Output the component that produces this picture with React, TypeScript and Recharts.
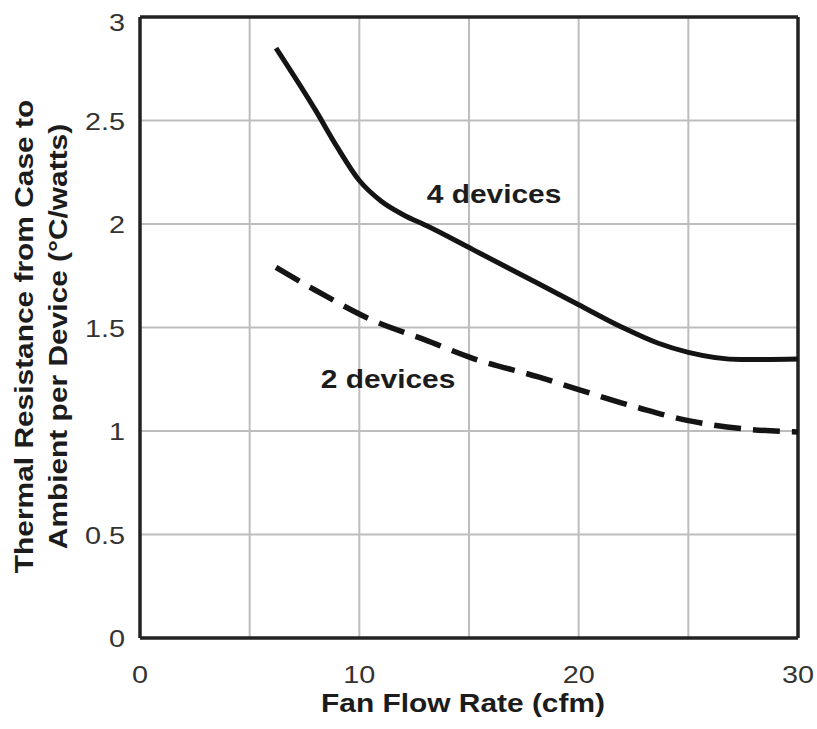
import React from 'react';
import { LineChart, Line, XAxis, YAxis, CartesianGrid, ReferenceLine, ReferenceDot } from 'recharts';

// Fan flow rate (cfm) and thermal resistance (°C/W)
const flow4 = [6.2, 8, 9, 10, 11, 12, 13.1, 15.2, 18.2, 20, 22, 23.6, 25, 27.4, 30];
const res4 = [2.85, 2.55, 2.37, 2.21, 2.11, 2.045, 1.99, 1.875, 1.71, 1.61, 1.5, 1.425, 1.38, 1.345, 1.348];
const flow2 = [6.2, 8, 10.5, 13, 15.2, 18.2, 20, 22.8, 25, 27.4, 30];
const res2 = [1.79, 1.68, 1.54, 1.44, 1.35, 1.26, 1.2, 1.11, 1.05, 1.012, 0.995];

const xTicks = [0, 5, 10, 15, 20, 25, 30];
const xLabelTicks = [0, 10, 20, 30];
const yTicks = [0, 0.5, 1, 1.5, 2, 2.5, 3];

const seriesNames = ['4 devices', '2 devices'];
const annotationX = [16.14, 11.31];
const annotationY = [2.1, 1.208];

const xTitle = 'Fan Flow Rate (cfm)';
const yTitleLines = ['Thermal Resistance from Case to', 'Ambient per Device (°C/watts)'];

const data4 = flow4.map((x, i) => ({ x, y: res4[i] }));
const data2 = flow2.map((x, i) => ({ x, y: res2[i] }));

const FONT = '"Liberation Sans", Arial, Helvetica, sans-serif';
const STRETCH = 1.15;
const TICK_STRETCH = 1.2;
const INK = '#1c1c1c';

const XTick = (props: any) => {
  const { x, y, payload } = props;
  if (!xLabelTicks.includes(payload.value)) return null;
  return (
    <text
      transform={`translate(${x},${y + 45}) scale(${TICK_STRETCH},1)`}
      textAnchor="middle"
      fontFamily={FONT}
      fontSize={24}
      fill="#333"
    >
      {payload.value}
    </text>
  );
};

const YTick = (props: any) => {
  const { x, y, payload } = props;
  const isTop = payload.value === yTicks[yTicks.length - 1];
  return (
    <text
      transform={`translate(${x - 15},${y + 9 + (isTop ? 5 : 0)}) scale(${TICK_STRETCH},1)`}
      textAnchor="end"
      fontFamily={FONT}
      fontSize={24}
      fill="#333"
    >
      {payload.value}
    </text>
  );
};

const XTitle = (props: any) => {
  const { viewBox } = props;
  const cx = viewBox.x + viewBox.width / 2 - 6;
  const cy = viewBox.y + 74;
  return (
    <text
      transform={`translate(${cx},${cy}) scale(${STRETCH},1)`}
      textAnchor="middle"
      fontFamily={FONT}
      fontWeight="bold"
      fontSize={26}
      fill={INK}
    >
      {xTitle}
    </text>
  );
};

const YTitle = (props: any) => {
  const { viewBox } = props;
  const cy = viewBox.y + viewBox.height / 2 + 9;
  const xs = [33, 67];
  return (
    <g>
      {yTitleLines.map((line, i) => (
        <text
          key={i}
          transform={`translate(${xs[i]},${cy}) rotate(-90) scale(${STRETCH},1)`}
          textAnchor="middle"
          fontFamily={FONT}
          fontWeight="bold"
          fontSize={26}
          fill={INK}
        >
          {line}
        </text>
      ))}
    </g>
  );
};

const Annotation = (text: string) => (props: any) => (
  <text
    transform={`translate(${props.cx},${props.cy}) scale(${STRETCH},1)`}
    textAnchor="middle"
    fontFamily={FONT}
    fontWeight="bold"
    fontSize={26}
    fill={INK}
  >
    {text}
  </text>
);

export default function App() {
  return (
    <div style={{ width: 817, height: 729, background: '#fff' }}>
      <style>{'body{margin:0;overflow:hidden;background:#fff}'}</style>
      <LineChart
        width={817}
        height={729}
        margin={{ top: 17, right: 19, left: 0, bottom: 0 }}
      >
        <CartesianGrid stroke="#bdbdbd" strokeWidth={2} />
        <XAxis
          type="number"
          dataKey="x"
          domain={[0, 30]}
          ticks={xTicks}
          interval={0}
          height={91}
          tickLine={false}
          tickSize={0}
          tickMargin={0}
          axisLine={{ stroke: '#222', strokeWidth: 3.5 }}
          tick={<XTick />}
          label={{ content: <XTitle /> } as any}
          allowDataOverflow
        />
        <YAxis
          type="number"
          domain={[0, 3]}
          ticks={yTicks}
          interval={0}
          width={140}
          tickLine={false}
          tickSize={0}
          tickMargin={0}
          axisLine={{ stroke: '#222', strokeWidth: 3.5 }}
          tick={<YTick />}
          label={{ content: <YTitle /> } as any}
          allowDataOverflow
        />
        <ReferenceLine y={3} stroke="#222" strokeWidth={3.5} />
        <ReferenceLine x={30} stroke="#222" strokeWidth={3.5} />
        <Line
          data={data4}
          dataKey="y"
          type="monotone"
          stroke="#141414"
          strokeWidth={5}
          dot={false}
          activeDot={false}
          isAnimationActive={false}
          name={seriesNames[0]}
        />
        <Line
          data={data2}
          dataKey="y"
          type="monotone"
          stroke="#141414"
          strokeWidth={5.5}
          strokeDasharray="27 12"
          dot={false}
          activeDot={false}
          isAnimationActive={false}
          name={seriesNames[1]}
        />
        {seriesNames.map((name, i) => (
          <ReferenceDot
            key={name}
            x={annotationX[i]}
            y={annotationY[i]}
            r={0}
            shape={Annotation(name)}
          />
        ))}
      </LineChart>
    </div>
  );
}
